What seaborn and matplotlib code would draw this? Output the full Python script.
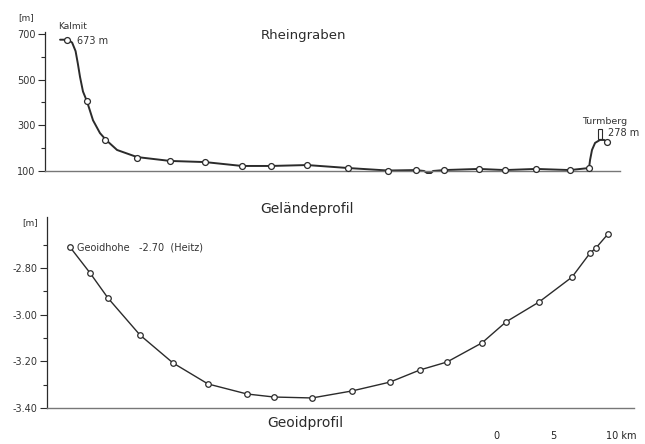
import matplotlib
matplotlib.use("Agg")
import matplotlib.pyplot as plt
import matplotlib.transforms as mtransforms
from matplotlib.patches import Rectangle
import seaborn as sns
import pandas as pd

# ---- data (distance in km from Kalmit, heights in m) ----
station_km = [0.0, 1.75, 3.33, 6.14, 9.04, 12.11, 15.35, 17.89, 21.05, 24.65,
              28.16, 30.61, 33.07, 36.14, 38.42, 41.14, 44.12, 45.79, 47.37]
station_m = [675, 405, 236, 157, 144, 139, 122, 122, 126, 113,
             102, 104, 104, 109, 104, 109, 104, 113, 227]

profile_km = [-0.61, 0.09, 0.45, 0.75, 0.95, 1.14, 1.40, 1.75, 2.28, 2.89, 3.42, 4.39,
              6.14, 9.04, 12.11, 15.35, 17.89, 21.05, 24.65, 28.16, 30.61,
              31.32, 31.58, 31.93, 32.11, 33.07, 36.14, 38.42, 41.14, 44.12,
              45.79, 45.88, 46.05, 46.32, 46.75, 47.11, 47.37]
profile_m = [675, 675, 662, 625, 570, 512, 448, 405, 322, 266, 236, 192,
             161, 144, 139, 122, 122, 126, 113, 102, 104,
             100, 91, 91, 100, 104, 109, 104, 109, 104,
             113, 148, 192, 223, 236, 236, 227]

geoid_km = [0.26, 2.02, 3.60, 6.40, 9.30, 12.37, 15.79, 18.16, 21.49, 25.00,
            28.33, 30.96, 33.33, 36.40, 38.51, 41.40, 44.30, 45.88, 46.40, 47.46]
geoid_m = [-2.71, -2.821, -2.929, -3.087, -3.207, -3.297, -3.340, -3.353, -3.357, -3.327,
           -3.289, -3.237, -3.203, -3.121, -3.031, -2.946, -2.839, -2.736, -2.714, -2.654]

height_ticks = [100, 300, 500, 700]
height_minor = [200, 400, 600]
geoid_ticks = [-2.80, -3.00, -3.20, -3.40]
geoid_minor = [-2.70, -2.90, -3.10, -3.30]
scale_km = [37.63, 42.63, 48.6]
scale_labels = ["0", "5", "10 km"]

stations = pd.DataFrame({"km": station_km, "m": station_m})
profile = pd.DataFrame({"km": profile_km, "m": profile_m})
geoid = pd.DataFrame({"km": geoid_km, "m": geoid_m})

sns.set_theme(style="ticks")
plt.rcParams['font.family'] = ['DejaVu Sans']

ink = "#2b2b2b"
fig = plt.figure(figsize=(6.45, 4.44), dpi=100)
ax1 = fig.add_axes([0.0698, 0.6149, 0.8915, 0.3137])
ax2 = fig.add_axes([0.0729, 0.0811, 0.9101, 0.4309])

# ---- top: terrain profile ----
sns.lineplot(data=profile, x="km", y="m", ax=ax1, sort=False, estimator=None,
             color=ink, linewidth=1.4, zorder=2, clip_on=False)
sns.scatterplot(data=stations, x="km", y="m", ax=ax1, s=18, color="white",
                edgecolor=ink, linewidth=0.9, zorder=3, clip_on=False)
ax1.set_xlim(-1.93, 48.51)
ax1.set_ylim(100, 710)
ax1.set_yticks(height_ticks)
ax1.set_yticks(height_minor, minor=True)
ax1.set_yticklabels([str(v) for v in height_ticks])

# ---- bottom: geoid profile ----
sns.lineplot(data=geoid, x="km", y="m", ax=ax2, sort=False, estimator=None,
             color=ink, linewidth=1.0, zorder=2)
sns.scatterplot(data=geoid, x="km", y="m", ax=ax2, s=16, color="white",
                edgecolor=ink, linewidth=0.9, zorder=3, clip_on=False)
ax2.set_xlim(-1.75, 49.74)
ax2.set_ylim(-3.40, -2.58)
ax2.set_yticks(geoid_ticks)
ax2.set_yticks(geoid_minor, minor=True)
ax2.set_yticklabels([f"{v:.2f}" for v in geoid_ticks])

for ax in (ax1, ax2):
    ax.set_xticks([])
    ax.set_xlabel("")
    ax.set_ylabel("")
    for s in ("top", "right"):
        ax.spines[s].set_visible(False)
    ax.spines["left"].set_color(ink)
    ax.spines["left"].set_linewidth(0.9)
    ax.spines["bottom"].set_color("#777777")
    ax.spines["bottom"].set_linewidth(1.0)
    ax.tick_params(axis="y", which="major", direction="out", length=5, width=0.8,
                   color=ink, labelsize=7, labelcolor="#333333", pad=2)
    ax.tick_params(axis="y", which="minor", direction="out", length=3, width=0.8,
                   color=ink)

# ---- annotations ----
ax1.text(-0.79, 731, "Kalmit", fontsize=6.5, color="#333333", ha="left", va="center",
         clip_on=False)
ax1.text(0.88, 669, "673 m", fontsize=7, color="#333333", ha="left", va="center")
ax1.text(45.2, 315, "Turmberg", fontsize=6.8, color="#333333", ha="left", va="center")
ax1.text(47.45, 266, "278 m", fontsize=7, color="#333333", ha="left", va="center",
         clip_on=False)
ax1.add_patch(Rectangle((station_km[-1] - 0.79, 240), 0.35, 44, fill=False,
                        edgecolor=ink, linewidth=0.8))
ax2.text(0.88, -2.71, "Geoidhohe   -2.70  (Heitz)", fontsize=7, color="#333333",
         ha="left", va="center")

fig.text(0.471, 0.921, "Rheingraben", fontsize=9.5, color="#2b2b2b", ha="center", va="center")
fig.text(0.476, 0.529, "Geländeprofil", fontsize=10, color="#2b2b2b", ha="center", va="center")
fig.text(0.473, 0.047, "Geoidprofil", fontsize=10, color="#2b2b2b", ha="center", va="center")
fig.text(0.040, 0.961, "[m]", fontsize=6.5, color="#333333", ha="center", va="center")
fig.text(0.0465, 0.498, "[m]", fontsize=6.5, color="#333333", ha="center", va="center")

trans = mtransforms.blended_transform_factory(ax2.transData, ax2.transAxes)
for k, lab in zip(scale_km, scale_labels):
    ax2.text(k, -0.146, lab, transform=trans, fontsize=7, color="#222222",
             ha="center", va="center", clip_on=False)

fig.savefig("out.png", dpi=100)
